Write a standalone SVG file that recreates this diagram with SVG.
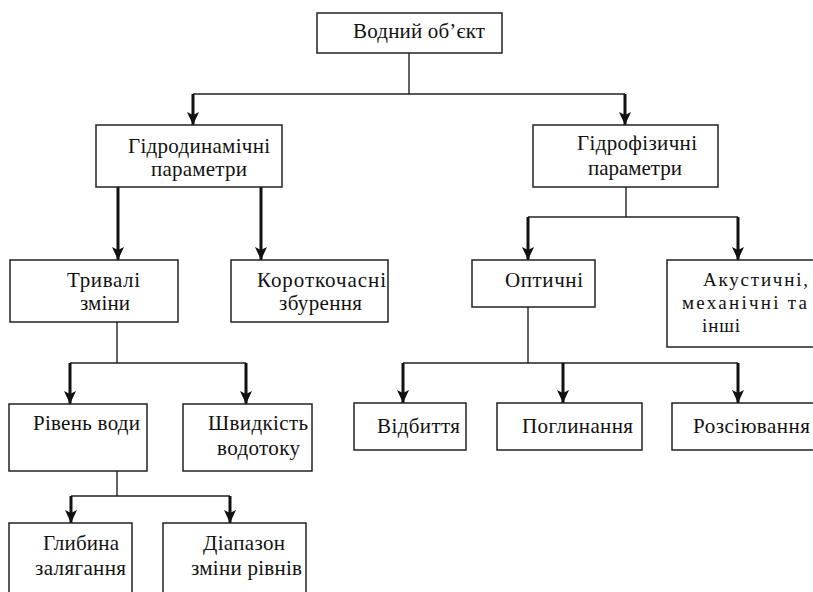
<svg xmlns="http://www.w3.org/2000/svg" width="813" height="592" viewBox="0 0 813 592">
<style>
.box{fill:#fff;stroke:#222;stroke-width:1.5}
.ln{fill:none;stroke:#222;stroke-width:1.4}
.ar{fill:none;stroke:#111;stroke-width:3;marker-end:url(#ah)}
.t{font-family:'Liberation Serif','Times New Roman',serif;font-size:21px;fill:#111}
.s{font-size:19px}
</style>
<defs>
<marker id="ah" markerUnits="userSpaceOnUse" viewBox="0 0 13 12" refX="13" refY="6" markerWidth="13" markerHeight="12" orient="auto">
<path d="M0,0 L13,6 L0,12 L3,6 Z" fill="#111"/>
</marker>
</defs>
<rect width="813" height="592" fill="#fff"/>
<g id="connectors">
<path class="ln" d="M409,53 V94 M193,94 H625"/>
<path class="ar" d="M193,94 V125"/>
<path class="ar" d="M625,94 V125"/>
<path class="ar" d="M118,187 V260"/>
<path class="ar" d="M261,187 V260"/>
<path class="ln" d="M626,187 V217 M528,217 H738"/>
<path class="ar" d="M528,217 V260"/>
<path class="ar" d="M738,217 V260"/>
<path class="ln" d="M117,322 V363 M70,363 H246"/>
<path class="ar" d="M70,363 V404"/>
<path class="ar" d="M246,363 V404"/>
<path class="ln" d="M528,307 V363 M403,363 H738"/>
<path class="ar" d="M403,363 V403"/>
<path class="ar" d="M563,363 V403"/>
<path class="ar" d="M738,363 V403"/>
<path class="ln" d="M117,471 V496 M71,496 H230"/>
<path class="ar" d="M71,496 V523"/>
<path class="ar" d="M230,496 V523"/>
</g>
<g class="t" font-family="Liberation Serif, Times New Roman, serif" font-size="21">
<g id="n-vodnyi"><rect class="box" x="317" y="13" width="185" height="40"/><text x="353" y="38" textLength="132" lengthAdjust="spacing">Водний об’єкт</text></g>
<g id="n-gidrodyn"><rect class="box" x="96" y="125" width="186" height="62"/><text x="128" y="153" textLength="142" lengthAdjust="spacing">Гідродинамічні</text><text x="151" y="176" textLength="96" lengthAdjust="spacing">параметри</text></g>
<g id="n-gidrofiz"><rect class="box" x="533" y="125" width="185" height="62"/><text x="577" y="150" textLength="120" lengthAdjust="spacing">Гідрофізичні</text><text x="588" y="175" textLength="94" lengthAdjust="spacing">параметри</text></g>
<g id="n-tryvali"><rect class="box" x="10" y="260" width="168" height="62"/><text x="67" y="287" textLength="73" lengthAdjust="spacing">Тривалі</text><text x="80" y="310" textLength="50" lengthAdjust="spacing">зміни</text></g>
<g id="n-korotko"><rect class="box" x="231" y="260" width="157" height="62"/><text x="257" y="287" textLength="129" lengthAdjust="spacing">Короткочасні</text><text x="279" y="310" textLength="83" lengthAdjust="spacing">збурення</text></g>
<g id="n-optychni"><rect class="box" x="472" y="260" width="123" height="47"/><text x="505" y="287" textLength="78" lengthAdjust="spacing">Оптичні</text></g>
<g id="n-akust"><rect class="box" x="667" y="260" width="153" height="87"/><text class="s" x="703" y="286" textLength="105" lengthAdjust="spacing">Акустичні,</text><text class="s" x="682" y="309" textLength="125" lengthAdjust="spacing">механічні та</text><text class="s" x="702" y="332" textLength="38" lengthAdjust="spacing">інші</text></g>
<g id="n-riven"><rect class="box" x="9" y="404" width="138" height="67"/><text x="33" y="430" textLength="107" lengthAdjust="spacing">Рівень води</text></g>
<g id="n-shvydk"><rect class="box" x="183" y="404" width="129" height="67"/><text x="208" y="430" textLength="100" lengthAdjust="spacing">Швидкість</text><text x="217" y="455" textLength="83" lengthAdjust="spacing">водотоку</text></g>
<g id="n-glyb"><rect class="box" x="9" y="523" width="123" height="80"/><text x="43" y="550" textLength="76" lengthAdjust="spacing">Глибина</text><text x="35" y="575" textLength="91" lengthAdjust="spacing">залягання</text></g>
<g id="n-diapazon"><rect class="box" x="163" y="523" width="143" height="80"/><text x="203" y="550" textLength="82" lengthAdjust="spacing">Діапазон</text><text x="191" y="575" textLength="111" lengthAdjust="spacing">зміни рівнів</text></g>
<g id="n-vidbyttya"><rect class="box" x="354" y="403" width="112" height="47"/><text x="377" y="433" textLength="83" lengthAdjust="spacing">Відбиття</text></g>
<g id="n-pohlyn"><rect class="box" x="497" y="403" width="145" height="47"/><text x="522" y="433" textLength="111" lengthAdjust="spacing">Поглинання</text></g>
<g id="n-rozsiyuv"><rect class="box" x="672" y="403" width="148" height="47"/><text x="693" y="433" textLength="117" lengthAdjust="spacing">Розсіювання</text></g>
</g>
</svg>
